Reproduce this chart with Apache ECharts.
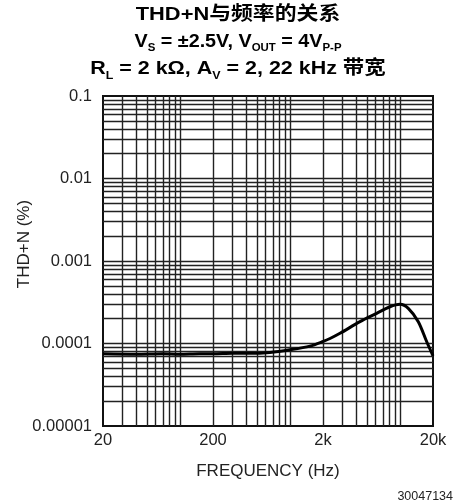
<!DOCTYPE html>
<html>
<head>
<meta charset="utf-8">
<script src="https://cdn.jsdelivr.net/npm/echarts@6/dist/echarts.min.js"></script>
<style>
html,body{margin:0;padding:0;background:#fff;}
#main{width:456px;height:504px;}
</style>
</head>
<body>
<div id="main"></div>
<script>
// ---- data ----
const frequencyHz = [20, 40, 70, 100, 150, 200, 300, 434, 659, 1002, 1524, 2012, 2316, 2856, 4340, 6154, 8124, 10020, 11920, 14700, 17540, 20000];
const thdnPercent = [7.5e-5, 7.4e-5, 7.5e-5, 7.4e-5, 7.5e-5, 7.5e-5, 7.6e-5, 7.6e-5, 7.8e-5, 8.4e-5, 9.3e-5, 1.06e-4, 1.15e-4, 1.33e-4, 1.84e-4, 2.32e-4, 2.79e-4, 2.99e-4, 2.67e-4, 1.84e-4, 1.05e-4, 7.1e-5];
const xTickValues = [20, 200, 2000, 20000];
const xGridLines = [30,40,50,60,70,80,90,100,200,300,400,500,600,700,800,900,1000,2000,3000,4000,5000,6000,7000,8000,9000,10000];
const yGridLines = [2e-5,3e-5,4e-5,5e-5,6e-5,7e-5,8e-5,9e-5,1e-4,2e-4,3e-4,4e-4,5e-4,6e-4,7e-4,8e-4,9e-4,1e-3,2e-3,3e-3,4e-3,5e-3,6e-3,7e-3,8e-3,9e-3,1e-2,2e-2,3e-2,4e-2,5e-2,6e-2,7e-2,8e-2,9e-2];
const titleLines = [
  'THD+N与频率的关系',
  'V{sub|S} = ±2.5V, V{sub|OUT} = 4V{sub|P-P}',
  'R{sub|L} = 2 kΩ, A{sub|V} = 2, 22 kHz 带宽'
];
const xAxisTitle = 'FREQUENCY (Hz)';
const yAxisTitle = 'THD+N (%)';
const figureId = '30047134';

// ---- chart ----
const FONT = '"Liberation Sans", Arial, "Noto Sans CJK SC", sans-serif';
const chart = echarts.init(document.getElementById('main'), null, {renderer: 'canvas'});

function fmtX(v) {
  const r = Math.round(v);
  return r >= 1000 ? (r / 1000) + 'k' : String(r);
}
function fmtY(v) {
  const e = Math.round(Math.log10(v));
  return (Math.pow(10, e)).toFixed(-e);
}

const gridLineStyle = {color: '#222', width: 1.4, type: 'solid'};
const markData = xGridLines.map(v => ({xAxis: v})).concat(yGridLines.map(v => ({yAxis: v})));

const titleY = [14.5, 41.5, 69];
const titleScale = [1.15, 1.04, 1.13];
const richSub = {sub: {fontFamily: FONT, fontWeight: 'bold', fontSize: 11, lineHeight: 14, verticalAlign: 'bottom', fill: '#000'}};
const titleGraphics = titleLines.map((t, i) => ({
  type: 'text',
  x: 238,
  y: titleY[i],
  scaleX: titleScale[i],
  silent: true,
  style: {
    text: t,
    fontFamily: FONT,
    fontWeight: 'bold',
    fontSize: 19,
    lineHeight: 24,
    fill: '#000',
    align: 'center',
    verticalAlign: 'middle',
    rich: richSub
  }
}));

chart.setOption({
  animation: false,
  backgroundColor: '#fff',
  grid: {
    left: 103, right: 23, top: 96, bottom: 78,
    show: true, borderColor: '#111', borderWidth: 2, backgroundColor: 'transparent'
  },
  xAxis: {
    type: 'log',
    logBase: 10,
    min: 20,
    max: 20000,
    name: xAxisTitle,
    nameLocation: 'middle',
    nameGap: 37,
    nameMoveOverlap: false,
    nameTextStyle: {fontFamily: FONT, fontSize: 17, color: '#222'},
    axisLine: {show: false},
    axisTick: {show: false},
    splitLine: {show: false},
    axisLabel: {
      customValues: xTickValues,
      fontFamily: FONT, fontSize: 16.5, color: '#222', margin: 6,
      formatter: fmtX
    }
  },
  yAxis: {
    type: 'log',
    logBase: 10,
    min: 1e-5,
    max: 0.1,
    name: yAxisTitle,
    nameLocation: 'middle',
    nameRotate: 90,
    nameGap: 70,
    nameMoveOverlap: false,
    nameTextStyle: {fontFamily: FONT, fontSize: 17, color: '#222', padding: [0, 0, 0, 34]},
    axisLine: {show: false},
    axisTick: {show: false},
    splitLine: {show: false},
    axisLabel: {
      fontFamily: FONT, fontSize: 16.5, color: '#222', margin: 11,
      formatter: fmtY
    }
  },
  graphic: titleGraphics.concat([{
    type: 'text',
    right: 3,
    top: 490,
    style: {text: figureId, fontFamily: FONT, fontSize: 12.5, fill: '#222'}
  }]),
  series: [{
    type: 'line',
    data: frequencyHz.map((f, i) => [f, thdnPercent[i]]),
    showSymbol: false,
    smooth: 0.3,
    lineStyle: {color: '#000', width: 3},
    z: 5,
    markLine: {
      silent: true,
      precision: 12,
      symbol: ['none', 'none'],
      label: {show: false},
      lineStyle: gridLineStyle,
      emphasis: {disabled: true},
      animation: false,
      data: markData
    }
  }]
});
</script>
</body>
</html>
